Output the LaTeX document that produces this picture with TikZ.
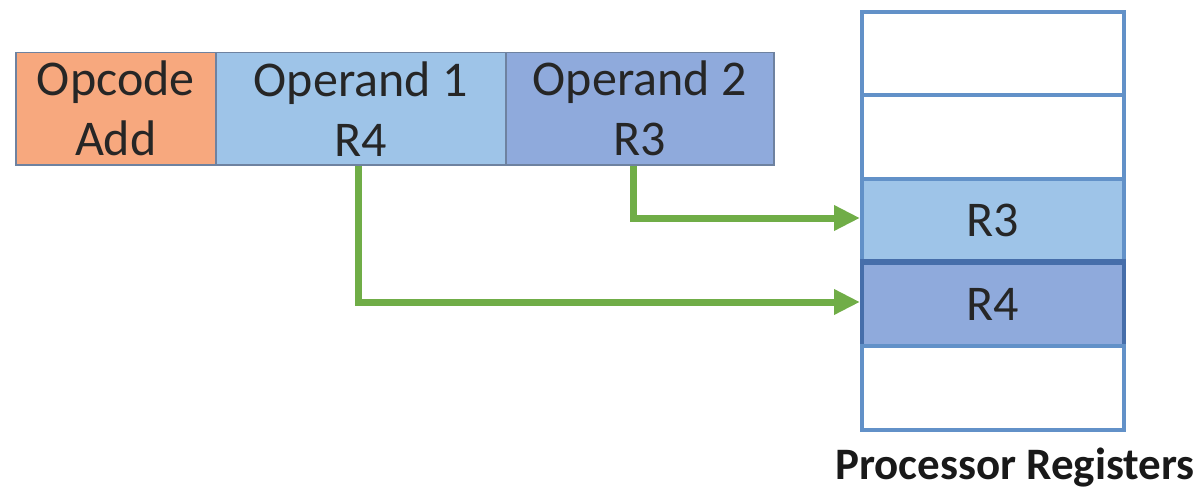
\documentclass[tikz,border=0pt]{standalone}
\usepackage{fontspec}
\setmainfont{Carlito}
\usetikzlibrary{arrows.meta}
\definecolor{opfill}{RGB}{247,168,126}
\definecolor{op1fill}{RGB}{158,196,232}
\definecolor{op2fill}{RGB}{143,170,220}
\definecolor{fieldline}{RGB}{110,130,160}
\definecolor{regline}{RGB}{98,145,200}
\definecolor{regdark}{RGB}{70,110,170}
\definecolor{arrowgreen}{RGB}{112,173,71}
\tikzset{
  field/.style={draw=fieldline, line width=1.5pt, minimum height=112pt, inner sep=0pt,
    align=center, font=\fontsize{50}{60}\selectfont, text=black!85, anchor=north west},
  regcell/.style={draw=regline, line width=4pt, minimum width=262pt, minimum height=83.5pt,
    inner sep=0pt, font=\fontsize{50}{60}\selectfont, text=black!85, anchor=north west},
  link/.style={draw=arrowgreen, line width=7pt, -{Triangle[length=26pt,width=24pt]}}
}
\begin{document}
\begin{tikzpicture}[x=1pt,y=-1pt]
\useasboundingbox (0,0) rectangle (1202,500);
% instruction fields
\node[field, fill=opfill, minimum width=200pt] (opc) at (15,52) {Opcode\\Add};
\node[field, fill=op1fill, minimum width=290pt] (op1) at (215,52) {Operand 1\\R4};
\node[field, fill=op2fill, minimum width=268pt] (op2) at (505,52) {Operand 2\\R3};
% register file
\node[regcell, fill=white] (reg0) at (860,10) {};
\node[regcell, fill=white] (reg1) at (860,93.5) {};
\node[regcell, fill=op1fill] (reg3) at (860,177) {R3};
\node[regcell, fill=op2fill, draw=regdark] (reg4) at (860,260.5) {R4};
\node[regcell, fill=white] (reg5) at (860,344) {};
\draw[regdark, line width=4pt] (reg4.north west) -- (reg4.north east);
\node[font=\fontsize{45}{54}\selectfont\bfseries, text=black!90, anchor=center] (title) at (1015,468) {Processor Registers};
% operand links
\coordinate (b3) at (633,218);
\coordinate (b4) at (358,302);
\draw[link] (op2.south -| b3) -- (b3) -- (reg3.west |- b3);
\draw[link] (op1.south -| b4) -- (b4) -- (reg4.west |- b4);
\end{tikzpicture}
\end{document}
